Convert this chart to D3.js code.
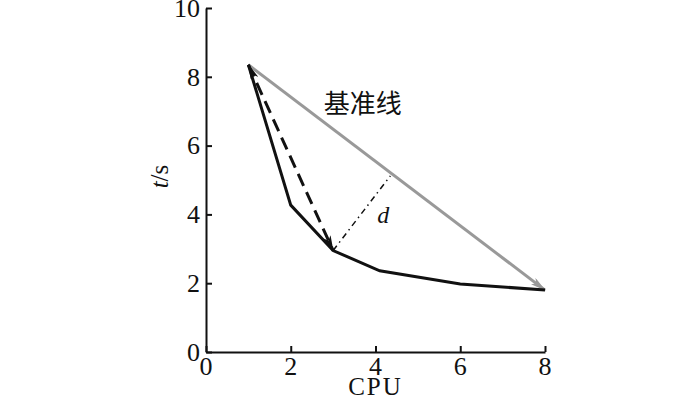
<!DOCTYPE html>
<html><head><meta charset="utf-8">
<script src="https://cdn.jsdelivr.net/npm/d3@7"></script>
<style>body{margin:0;background:#fff}svg{display:block}
text.serif{font-family:'Liberation Serif','Times New Roman',serif}</style>
</head><body>
<script>
// data
const cpu = [1, 2, 3, 4.1, 6, 8];
const times = [8.35, 4.27, 2.95, 2.36, 1.98, 1.8];
const baseline = [[1, 8.35], [8, 1.8]];
const dashedArrow = [[1, 8.35], [3, 2.95]];
const distanceLine = [[3, 2.95], [4.35, 5.12]];
const xTicks = [0, 2, 4, 6, 8];
const yTicks = [0, 2, 4, 6, 8, 10];
const baselineLabel = "基准线";
const dLabel = "d";

const W = 700, H = 398;
const svg = d3.select("body").append("svg").attr("width", W).attr("height", H);
const x = d3.scaleLinear().domain([0, 8]).range([206, 545]);
const y = d3.scaleLinear().domain([0, 10]).range([352, 8]);

const defs = svg.append("defs");
function marker(id, color, orient) {
  defs.append("marker").attr("id", id).attr("viewBox", "0 0 16 8")
    .attr("refX", 15).attr("refY", 4).attr("markerWidth", 16).attr("markerHeight", 8)
    .attr("markerUnits", "userSpaceOnUse").attr("orient", orient)
    .append("path").attr("d", "M0,0 L16,4 L0,8 L4,4 Z").attr("fill", color);
}
marker("arrGray", "#999", "auto");
marker("arrBlackEnd", "#111", "auto");
marker("arrBlackStart", "#111", "auto-start-reverse");

// axes (lines and ticks from d3 axes, labels drawn separately)
const gy = svg.append("g").attr("transform", `translate(${x(0)},0)`)
  .call(d3.axisLeft(y).tickValues(yTicks).tickSize(-6).tickSizeOuter(0).tickFormat(() => ""));
const gx = svg.append("g").attr("transform", `translate(0,${y(0)})`)
  .call(d3.axisBottom(x).tickValues(xTicks).tickSize(-6).tickSizeOuter(0).tickFormat(() => ""));
[gx, gy].forEach(g => {
  g.select(".domain").attr("stroke", "#111").attr("stroke-width", 2);
  g.selectAll(".tick line").attr("stroke", "#111").attr("stroke-width", 2);
});

svg.append("g").selectAll("text").data(yTicks).join("text")
  .attr("class", "serif").attr("x", x(0) - 6).attr("y", d => y(d)).attr("dy", "0.34em")
  .attr("text-anchor", "end").attr("font-size", 26).attr("fill", "#111").text(d => d);
svg.append("g").selectAll("text").data(xTicks).join("text")
  .attr("class", "serif").attr("x", d => x(d)).attr("y", y(0) + 4).attr("dy", "0.72em")
  .attr("text-anchor", "middle").attr("font-size", 26).attr("fill", "#111").text(d => d);

// axis titles
svg.append("text").attr("class", "serif").attr("x", x(4)).attr("y", 395).attr("text-anchor", "middle")
  .attr("font-size", 25).attr("letter-spacing", 2).attr("fill", "#111").text("CPU");
const yt = svg.append("text").attr("class", "serif").attr("transform", `translate(168,${y(5.1)}) rotate(-90)`)
  .attr("text-anchor", "middle").attr("font-size", 25).attr("fill", "#111");
yt.append("tspan").attr("font-style", "italic").text("t");
yt.append("tspan").text("/s");

const line = d3.line().x(d => x(d[0])).y(d => y(d[1]));

// baseline gray arrow
svg.append("path").datum(baseline).attr("d", line).attr("fill", "none")
  .attr("stroke", "#999").attr("stroke-width", 3).attr("marker-end", "url(#arrGray)");

// black curve
svg.append("path").datum(cpu.map((c, i) => [c, times[i]])).attr("d", line)
  .attr("fill", "none").attr("stroke", "#111").attr("stroke-width", 3)
  .attr("stroke-linejoin", "miter");

// dashed double arrow
svg.append("path").datum(dashedArrow).attr("d", line).attr("fill", "none")
  .attr("stroke", "#111").attr("stroke-width", 3).attr("stroke-dasharray", "13,7")
  .attr("marker-end", "url(#arrBlackEnd)").attr("marker-start", "url(#arrBlackStart)");

// distance dash-dot line
svg.append("path").datum(distanceLine).attr("d", line).attr("fill", "none")
  .attr("stroke", "#111").attr("stroke-width", 1.5).attr("stroke-dasharray", "6,4,1.5,4");

// labels
svg.append("text").attr("x", x(3.7)).attr("y", y(7.2)).attr("dy", "0.35em")
  .attr("text-anchor", "middle").attr("font-family", "'Noto Sans CJK SC',sans-serif")
  .attr("font-size", 26).attr("fill", "#111").text(baselineLabel);
svg.append("text").attr("class", "serif").attr("x", x(4.18)).attr("y", y(3.98)).attr("dy", "0.35em")
  .attr("text-anchor", "middle").attr("font-style", "italic")
  .attr("font-size", 24).attr("fill", "#111").text(dLabel);
</script>
</body></html>
